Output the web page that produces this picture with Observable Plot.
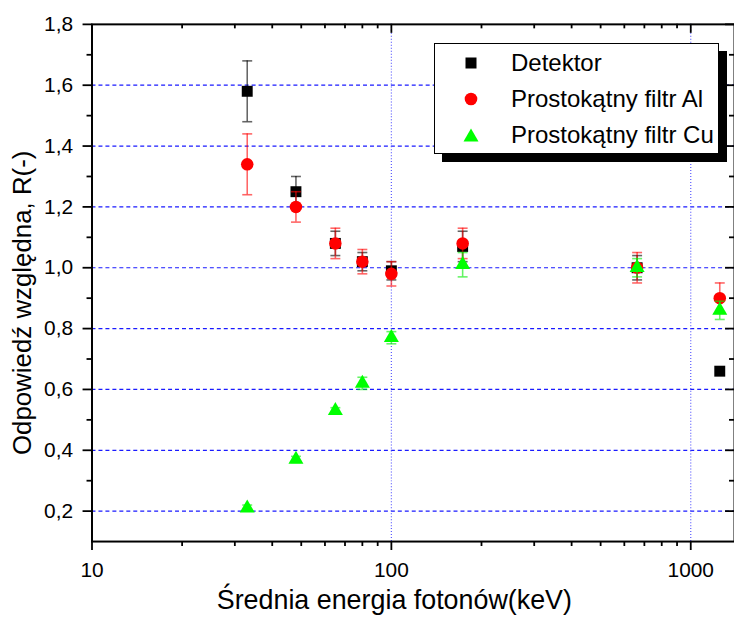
<!DOCTYPE html>
<html>
<head>
<meta charset="utf-8">
<script src="https://cdn.jsdelivr.net/npm/d3@7"></script>
<script src="https://cdn.jsdelivr.net/npm/@observablehq/plot@0.6"></script>
<style>
  html, body { margin: 0; padding: 0; background: #fff; overflow: hidden; }
  #wrap { position: relative; width: 734px; height: 628px; overflow: hidden; font-family: "Liberation Sans", Arial, sans-serif; }
  #legend {
    position: absolute; left: 434px; top: 43px; width: 283px; height: 109px;
    border: 1.5px solid #000; background: #fff; box-shadow: 8px 8px 0 #000;
  }
  .row { position: absolute; left: 0; height: 36px; display: flex; align-items: center; font-size: 24px; color: #000; white-space: nowrap; }
  .row svg { width: 30px; height: 30px; margin-left: 21px; margin-right: 25px; }
</style>
</head>
<body>
<div id="wrap"></div>
<script>
// Mean photon energy (keV) of each beam quality
const energy = [33, 48, 65, 80, 100, 173, 662, 1250];

// Relative response R(-) and its uncertainty for each configuration
const detektor    = [1.58, 1.25, 1.08, 1.02, 0.99, 1.07, 1.00, 0.66];
const detektorErr = [0.10, 0.05, 0.04, 0.03, 0.03, 0.05, 0.04, 0.00];
const filtrAl     = [1.34, 1.20, 1.08, 1.02, 0.98, 1.08, 1.00, 0.90];
const filtrAlErr  = [0.10, 0.05, 0.05, 0.04, 0.04, 0.05, 0.05, 0.05];
const filtrCu     = [0.21, 0.37, 0.53, 0.62, 0.77, 1.01, 1.00, 0.86];
const filtrCuErr  = [0.01, 0.01, 0.01, 0.02, 0.02, 0.04, 0.03, 0.03];

const seriesNames = ["Detektor", "Prostokątny filtr Al", "Prostokątny filtr Cu"];

// Axis ticks
const xMajor = [10, 100, 1000];
const xMinor = [20, 30, 40, 50, 60, 70, 80, 90, 200, 300, 400, 500, 600, 700, 800, 900];
const yMajor = [0.2, 0.4, 0.6, 0.8, 1.0, 1.2, 1.4, 1.6, 1.8];
const yMinor = [0.3, 0.5, 0.7, 0.9, 1.1, 1.3, 1.5, 1.7];
const yGrid  = [0.2, 0.4, 0.6, 0.8, 1.0, 1.2, 1.4, 1.6];
const xGrid  = [100, 1000];

const xTitle = "Średnia energia fotonów(keV)";
const yTitle = "Odpowiedź względna, R(-)";

const series = [
  {name: seriesNames[0], values: detektor, err: detektorErr, symbol: "square",   r: 6.2, color: "#000000", bar: "#000000"},
  {name: seriesNames[1], values: filtrAl,  err: filtrAlErr,  symbol: "circle",   r: 6.3, color: "#ff0000", bar: "#ff0000"},
  {name: seriesNames[2], values: filtrCu,  err: filtrCuErr,  symbol: "triangle", r: 5.6, color: "#00ff00", bar: "#00ee00"}
];

const rows = s => energy.map((e, i) => ({x: e, y: s.values[i], lo: s.values[i] - s.err[i], hi: s.values[i] + s.err[i], err: s.err[i]}));

// Horizontal cap used on the error bars
const capSymbol = {
  draw(context, size) {
    const w = Math.sqrt(size / Math.PI);
    context.moveTo(-w, 0);
    context.lineTo(w, 0);
  }
};

const comma = d => d.toFixed(1).replace(".", ",");

const W = 738, H = 628, mL = 92, mR = 0, mT = 24, mB = 84;
const innerW = W - mL - mR, innerH = H - mT - mB;

const seriesMarks = series.flatMap(s => {
  const data = rows(s).filter(d => d.err > 0);
  return [
    Plot.ruleX(data, {x: "x", y1: "lo", y2: "hi", stroke: s.bar, strokeOpacity: 0.6, strokeWidth: 1.6}),
    Plot.dot(data, {x: "x", y: "hi", symbol: capSymbol, r: 5, stroke: s.bar, strokeOpacity: 0.6, strokeWidth: 1.6, fill: "none"}),
    Plot.dot(data, {x: "x", y: "lo", symbol: capSymbol, r: 5, stroke: s.bar, strokeOpacity: 0.6, strokeWidth: 1.6, fill: "none"}),
    Plot.dot(rows(s), {x: "x", y: "y", symbol: s.symbol, r: s.r, fill: s.color, stroke: "none"})
  ];
});

const chart = Plot.plot({
  width: W, height: H,
  marginLeft: mL, marginRight: mR, marginTop: mT, marginBottom: mB,
  x: {type: "log", domain: [10, 1400], label: null},
  y: {domain: [0.1, 1.8], label: null},
  style: {fontFamily: "'Liberation Sans', Arial, sans-serif", fontSize: "21px", color: "#000", background: "#fff", overflow: "visible"},
  marks: [
    Plot.gridY(yGrid, {stroke: "#1a1aff", strokeOpacity: 1, strokeWidth: 1.2, strokeDasharray: "4,3"}),
    Plot.gridX(xGrid, {stroke: "#5a5aff", strokeOpacity: 1, strokeWidth: 1.2, strokeDasharray: "1,2"}),
    ...seriesMarks,
    // outer ticks and labels on the left and bottom
    Plot.axisY(yMajor, {tickSize: 9, tickPadding: 10, tickFormat: comma, strokeWidth: 1.8, fontSize: 21}),
    Plot.axisY(yMinor, {tickSize: 5, tickFormat: () => "", strokeWidth: 1.8}),
    Plot.axisX(xMajor, {tickSize: 9, tickPadding: 12, tickFormat: d => String(d), strokeWidth: 1.8, fontSize: 21}),
    Plot.axisX(xMinor, {tickSize: 5, tickFormat: () => "", strokeWidth: 1.8}),
    // inner ticks on the top and right edges
    Plot.tickX(xMajor, {x: d => d, insetBottom: innerH - 9, strokeWidth: 1.8}),
    Plot.tickX(xMinor, {x: d => d, insetBottom: innerH - 4.5, strokeWidth: 1.8}),
    Plot.tickY(yMajor, {y: d => d, insetLeft: innerW - 9, strokeWidth: 1.8}),
    Plot.tickY(yMinor, {y: d => d, insetLeft: innerW - 5, strokeWidth: 1.8}),
    Plot.frame({stroke: "#000", strokeWidth: 2}),
    // axis titles
    Plot.text([xTitle], {frameAnchor: "bottom", textAnchor: "middle", dx: -19, dy: 68, fontSize: 27, fill: "#000"}),
    Plot.text([yTitle], {frameAnchor: "left", textAnchor: "middle", dx: -70, dy: 20, rotate: -90, fontSize: 26, fill: "#000"})
  ]
});

const wrap = document.getElementById("wrap");
wrap.appendChild(chart);

// Legend box with drop shadow, placed inside the plot area
const legend = document.createElement("div");
legend.id = "legend";
const symbolSvg = {
  square: '<rect x="9.5" y="9.5" width="11" height="11" fill="#000"/>',
  circle: '<circle cx="15" cy="15" r="6.3" fill="#ff0000"/>',
  triangle: '<path d="M15,8.5 L22.5,21.5 L7.5,21.5 Z" fill="#00ff00"/>'
};
series.forEach((s, i) => {
  const row = document.createElement("div");
  row.className = "row";
  row.style.top = (1 + i * 36) + "px";
  row.innerHTML = `<svg viewBox="0 0 30 30">${symbolSvg[s.symbol]}</svg><span>${s.name}</span>`;
  legend.appendChild(row);
});
wrap.appendChild(legend);
</script>
</body>
</html>
